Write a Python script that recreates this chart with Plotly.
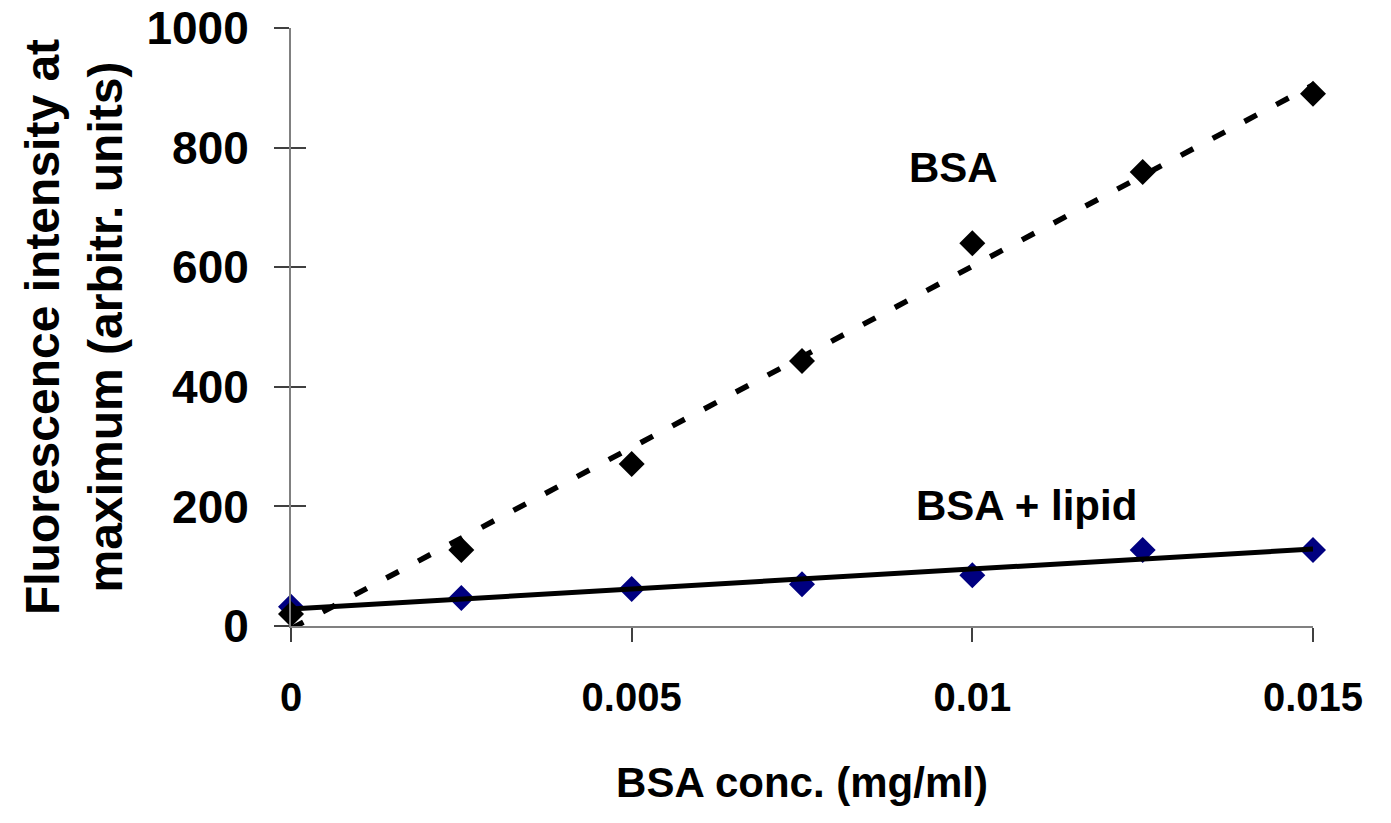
import numpy as np
import plotly.graph_objects as go

# ---- data ----
conc = [0, 0.0025, 0.005, 0.0075, 0.01, 0.0125, 0.015]
bsa = [20, 127, 271, 443, 640, 759, 890]
bsa_lipid = [32, 47, 62, 70, 85, 127, 127]
x_ticks = [0, 0.005, 0.01, 0.015]
x_tick_text = ["0", "0.005", "0.01", "0.015"]
y_ticks = [0, 200, 400, 600, 800, 1000]

FONT = "Arial, Liberation Sans, sans-serif"

# linear trend lines (least squares fit, as in the original spreadsheet chart)
xfit = np.array([conc[0], conc[-1]])
p_bsa = np.polyfit(conc, bsa, 1)
p_lip = np.polyfit(conc, bsa_lipid, 1)

fig = go.Figure()
fig.add_trace(go.Scatter(x=conc, y=bsa_lipid, mode="markers", name="BSA + lipid",
                         marker=dict(symbol="diamond", size=20, color="#000080"),
                         cliponaxis=False, showlegend=False))
fig.add_trace(go.Scatter(x=conc, y=bsa, mode="markers", name="BSA",
                         marker=dict(symbol="diamond", size=20, color="#000000"),
                         cliponaxis=False, showlegend=False))
fig.add_trace(go.Scatter(x=xfit, y=np.polyval(p_lip, xfit), mode="lines",
                         line=dict(color="black", width=5), showlegend=False))
fig.add_trace(go.Scatter(x=xfit, y=np.polyval(p_bsa, xfit), mode="lines",
                         line=dict(color="black", width=5.5, dash="14px,22px"), showlegend=False))

fig.add_annotation(x=0.00972, y=766, text="<b>BSA</b>", showarrow=False,
                   font=dict(family=FONT, size=42, color="black"))
fig.add_annotation(x=0.0108, y=202, text="<b>BSA + lipid</b>", showarrow=False,
                   font=dict(family=FONT, size=42, color="black"))

fig.update_layout(
    width=1391, height=823,
    margin=dict(l=291, r=78, t=28, b=197),
    paper_bgcolor="white", plot_bgcolor="white",
    font=dict(family=FONT, color="black"),
    xaxis=dict(range=[0, 0.015], tickvals=x_ticks, ticktext=x_tick_text, automargin=False,
               showgrid=False, zeroline=False, showline=True, linecolor="#808080", linewidth=2,
               ticks="outside", ticklen=14, tickwidth=1.5, tickcolor="#404040",
               tickfont=dict(family=FONT, size=40, color="black", weight="bold"),
               ticklabelstandoff=21, ticklabeloverflow="allow",
               title=dict(text="<b>BSA conc. (mg/ml)</b>", font=dict(family=FONT, size=42),
                          standoff=50)),
    yaxis=dict(range=[0, 1000], tickvals=y_ticks, automargin=False,
               showgrid=False, zeroline=False, showline=True, linecolor="#808080", linewidth=2,
               ticks="outside", ticklen=15, tickwidth=1.5, tickcolor="#404040",
               tickfont=dict(family=FONT, size=46, color="black", weight="bold"),
               ticklabelstandoff=16, ticklabeloverflow="allow",
               title=dict(text="<b>Fluorescence intensity at<br>maximum (arbitr. units)</b>",
                          font=dict(family=FONT, size=48), standoff=9)),
    yaxis2=dict(range=[0, 1000], tickvals=y_ticks, overlaying="y", side="left", automargin=False,
                showgrid=False, zeroline=False, showline=False, showticklabels=False,
                ticks="inside", ticklen=15, tickwidth=1.5, tickcolor="#404040"),
)
# invisible trace so yaxis2 is drawn
fig.add_trace(go.Scatter(x=[conc[0]], y=[y_ticks[0]], yaxis="y2", mode="markers",
                         marker=dict(opacity=0), showlegend=False, hoverinfo="skip"))

fig.write_html("out.html", config={"displayModeBar": False},
               post_script="document.body.style.margin='0';")
